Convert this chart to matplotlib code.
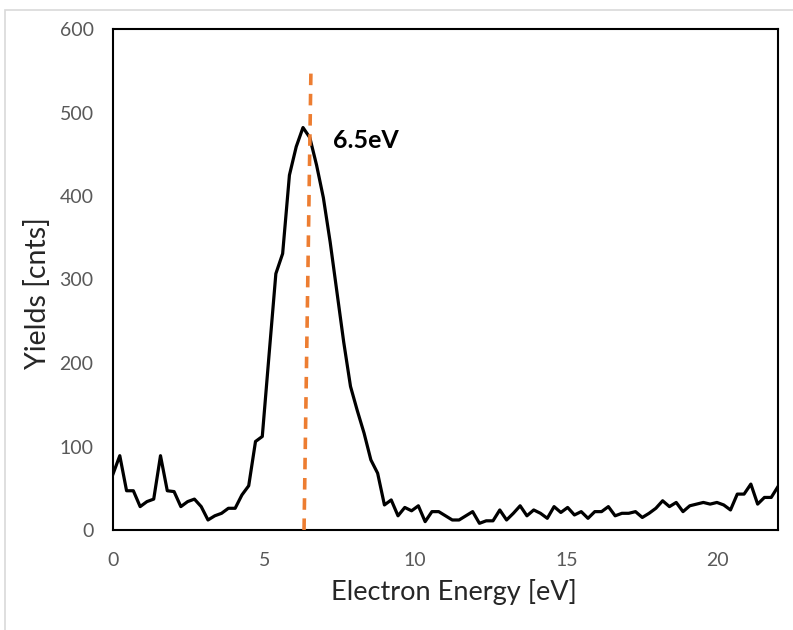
import matplotlib
matplotlib.use("Agg")
import matplotlib.pyplot as plt
import numpy as np
from matplotlib.patches import Rectangle

# Electron energy grid [eV] and measured yields [cnts]
energy = np.linspace(0, 22, 99)
yields = [
    67, 89, 47, 47, 28, 34, 37, 89, 47, 46,
    28, 34, 37, 28, 12, 17, 20, 26, 26, 42,
    53, 106, 112, 210, 307, 331, 425, 459, 482, 470,
    437, 398, 345, 285, 225, 172, 143, 116, 84, 68,
    30, 36, 17, 27, 23, 29, 10, 22, 22, 17,
    12, 12, 17, 22, 8, 11, 11, 24, 12, 20,
    29, 17, 24, 20, 14, 28, 21, 27, 18, 22,
    14, 22, 22, 28, 17, 20, 20, 22, 15, 20,
    26, 35, 28, 33, 22, 29, 31, 33, 31, 33,
    30, 24, 43, 43, 55, 31, 39, 39, 52,
]

# peak marker line (slightly tilted as in the original)
peak_x = [6.32, 6.55]
peak_y = [0, 555]
peak_label = "6.5eV"

x_ticks = [0, 5, 10, 15, 20]
y_ticks = [0, 100, 200, 300, 400, 500, 600]

plt.rcParams['font.family'] = ['Lato', 'DejaVu Sans']

fig = plt.figure(figsize=(7.93, 6.30), dpi=100)
# light grey chart-area border
fig.patches.append(Rectangle((5 / 793, -0.01), 1.0, (630 - 10) / 630 + 0.01,
                             transform=fig.transFigure, fill=False,
                             edgecolor='#D9D9D9', linewidth=1.2))

ax = fig.add_axes([113 / 793, 100 / 630, 665 / 793, 501 / 630])

ax.plot(energy, yields, color='black', linewidth=2.3, zorder=3)
ax.plot(peak_x, peak_y, color='#ED7D31', linewidth=2.6,
        linestyle=(0, (3.2, 2.4)), zorder=4)
ax.text(7.28, 467, peak_label, fontsize=18, fontweight='bold',
        ha='left', va='center', color='black')

ax.set_xlim(0, 22)
ax.set_ylim(0, 600)
ax.set_xticks(x_ticks)
ax.set_yticks(y_ticks)
ax.tick_params(length=0, labelsize=14, labelcolor='#595959')
ax.tick_params(axis='x', pad=16)
ax.tick_params(axis='y', pad=14)

for s in ax.spines.values():
    s.set_linewidth(1.5)
    s.set_color('black')

ax.set_xlabel("Electron Energy [eV]", fontsize=19.5, color='#262626')
ax.set_ylabel("Yields [cnts]", fontsize=20.5, color='#262626')
ax.xaxis.set_label_coords(0.513, -0.098)
ax.yaxis.label.set_va('center')
ax.yaxis.set_label_coords(-0.114, 0.473)

fig.savefig("out.png", dpi=100)
